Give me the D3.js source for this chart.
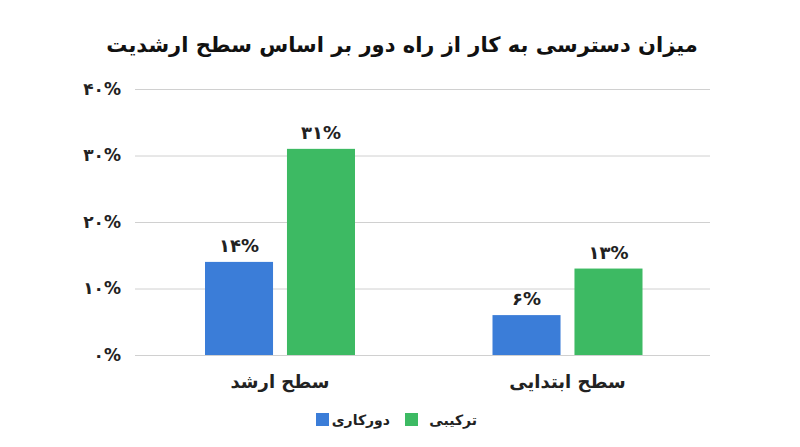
<!DOCTYPE html>
<html><head><meta charset="utf-8">
<script src="https://cdn.jsdelivr.net/npm/d3@7/dist/d3.min.js"></script>
<style>body{margin:0;background:#fff}text{font-family:"DejaVu Sans",sans-serif;font-weight:bold}</style>
</head><body><svg id="c" width="800" height="447"></svg>
<script>
const categories = ["سطح ارشد", "سطح ابتدایی"];
const seriesNames = ["دورکاری", "ترکیبی"];
const remote = [14, 6];
const hybrid = [31, 13];
const ticks = [0, 10, 20, 30, 40];
const colors = ["#3b7dd8", "#3dba63"];
const fa = n => String(n).replace(/\d/g, d => "۰۱۲۳۴۵۶۷۸۹"[d]) + "%";

const svg = d3.select("#c");
const x = d3.scaleBand().domain(categories).range([135, 710]).paddingInner(0).paddingOuter(0);
const y = d3.scaleLinear().domain([0, 40]).range([355, 89]);
const xs = d3.scaleBand().domain([0, 1]).range([70, 220]).paddingInner(0.17);

svg.append("text").attr("x", 402).attr("y", 52).attr("text-anchor", "middle")
  .attr("font-size", 21).attr("fill", "#111").text("میزان دسترسی به کار از راه دور بر اساس سطح ارشدیت");

const ya = svg.append("g").attr("transform", "translate(135,0)")
  .call(d3.axisLeft(y).tickValues(ticks).tickSize(-575).tickFormat(fa));
ya.select(".domain").remove();
ya.selectAll("line").attr("stroke", "#d0d0d0");
ya.selectAll("text").attr("font-size", 17).attr("fill", "#222").attr("x", -14)
  .style("font-family", "DejaVu Sans").style("font-weight", "bold");

const data = [remote, hybrid];
data.forEach((vals, s) => {
  categories.forEach((c, i) => {
    const bx = x(c) + xs(s);
    svg.append("rect").attr("x", bx).attr("y", y(vals[i])).attr("width", xs.bandwidth())
      .attr("height", y(0) - y(vals[i])).attr("fill", colors[s]);
    svg.append("text").attr("x", bx + xs.bandwidth() / 2).attr("y", y(vals[i]) - 10)
      .attr("text-anchor", "middle").attr("font-size", 18).attr("fill", "#222").text(fa(vals[i]));
  });
});

categories.forEach(c => {
  svg.append("text").attr("x", x(c) + 145).attr("y", 388).attr("text-anchor", "middle")
    .attr("font-size", 18).attr("fill", "#222").text(c);
});

const leg = [{n: seriesNames[0], c: colors[0], x: 316, tx: 390}, {n: seriesNames[1], c: colors[1], x: 405, tx: 477}];
leg.forEach(l => {
  svg.append("rect").attr("x", l.x).attr("y", 413).attr("width", 13).attr("height", 13).attr("fill", l.c);
  svg.append("text").attr("x", l.tx).attr("y", 425).attr("text-anchor", "end").attr("font-size", 14)
    .attr("fill", "#222").text(l.n);
});
</script></body></html>
